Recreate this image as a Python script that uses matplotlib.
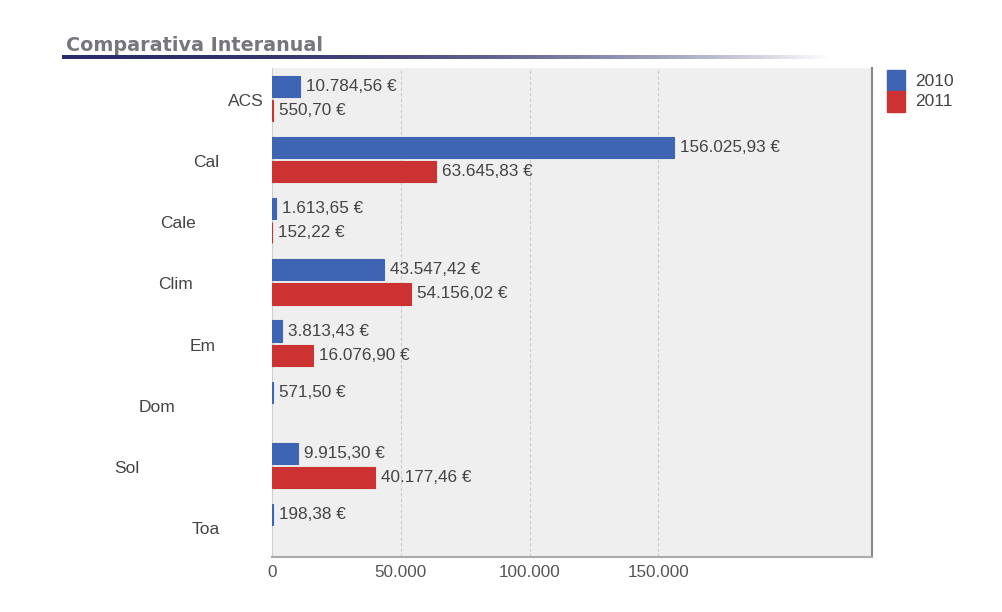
import matplotlib.pyplot as plt
import numpy as np

# Data
categories = ['ACS', 'Cal', 'Cale', 'Clim', 'Em', 'Dom', 'Sol', 'Toa']
values_2010 = [10784.56, 156025.93, 1613.65, 43547.42, 3813.43, 571.50, 9915.30, 198.38]
values_2011 = [550.70, 63645.83, 152.22, 54156.02, 16076.90, None, 40177.46, None]
years = ['2010', '2011']
xticks = [0, 50000, 100000, 150000]
xtick_labels = ['0', '50.000', '100.000', '150.000']

# label x positions (pixels) - the original truncates the labels oddly
label_px = [228, 193, 160, 158, 190, 139, 114, 192]

blue = '#3d65b3'
red = '#cc3232'
text_col = '#444444'

plt.rcParams['font.family'] = ['Liberation Sans', 'DejaVu Sans']

W, H = 1002, 612
fig = plt.figure(figsize=(W / 100, H / 100), dpi=100)

ax = fig.add_axes([272 / W, 1 - 557 / H, 600 / W, 489 / H])
ax.set_facecolor('#efefef')

y = np.arange(len(categories))
off = 0.197
h = 0.345


def fmt(v):
    s = f'{v:,.2f}'
    return s.replace(',', 'X').replace('.', ',').replace('X', '.') + ' €'


xmax = 233000
for i, (a, b) in enumerate(zip(values_2010, values_2011)):
    ax.barh(y[i] - off, a, height=h, color=blue, edgecolor=blue,
            linewidth=0.8, zorder=3)
    ax.text(a + xmax * 0.01, y[i] - off, fmt(a), va='center', ha='left',
            fontsize=12.3, color=text_col, zorder=4)
    if b is not None:
        ax.barh(y[i] + off, b, height=h, color=red, edgecolor=red,
                linewidth=0.8, zorder=3)
        ax.text(b + xmax * 0.01, y[i] + off, fmt(b), va='center', ha='left',
                fontsize=12.3, color=text_col, zorder=4)

ax.set_xlim(0, xmax)
ax.set_ylim(len(categories) - 0.5, -0.5)
ax.set_xticks(xticks)
ax.set_xticklabels(xtick_labels, fontsize=12.3, color='#555555')
ax.tick_params(axis='x', length=0, pad=6)
ax.set_yticks([])
ax.grid(axis='x', color='#cccccc', linestyle=(0, (3, 2)), linewidth=0.8, zorder=1)

ax.spines['top'].set_visible(False)
ax.spines['left'].set_color('#cfcfcf')
ax.spines['right'].set_color('#888888')
ax.spines['right'].set_linewidth(1.5)
ax.spines['bottom'].set_color('#aaaaaa')
ax.spines['bottom'].set_linewidth(1.5)

# category labels
for i, name in enumerate(categories):
    yy = ax.transData.transform((0, y[i]))[1] - 3
    fig.text(label_px[i] / W, yy / H, name, ha='left', va='center',
             fontsize=12.5, color=text_col)

# title with gradient underline
fig.text(66 / W, 1 - 45.5 / H, 'Comparativa Interanual', fontsize=13.8,
         fontweight='bold', color='#76767e', va='center', ha='left',
         family='DejaVu Sans')
bar_ax = fig.add_axes([62 / W, 1 - 59 / H, 770 / W, 4 / H])
grad = np.linspace(0, 1, 256)
c0 = np.array([0.17, 0.17, 0.42])
c1 = np.array([1.0, 1.0, 1.0])
ramp = np.clip(grad ** 2.3, 0, 1)[:, None]
img = (c0 * (1 - ramp) + c1 * ramp)[None, :, :]
bar_ax.imshow(img, aspect='auto')
bar_ax.axis('off')

# legend
for k, (yr, col) in enumerate(zip(years, [blue, red])):
    top = 70 + k * 21
    fig.patches.append(plt.Rectangle((887 / W, 1 - (top + 21) / H), 18 / W, 21 / H,
                                     transform=fig.transFigure, color=col))
    fig.text(915 / W, 1 - (top + 11) / H, yr, fontsize=12.5, color=text_col,
             va='center', ha='left')

fig.savefig('out.png', dpi=100)
